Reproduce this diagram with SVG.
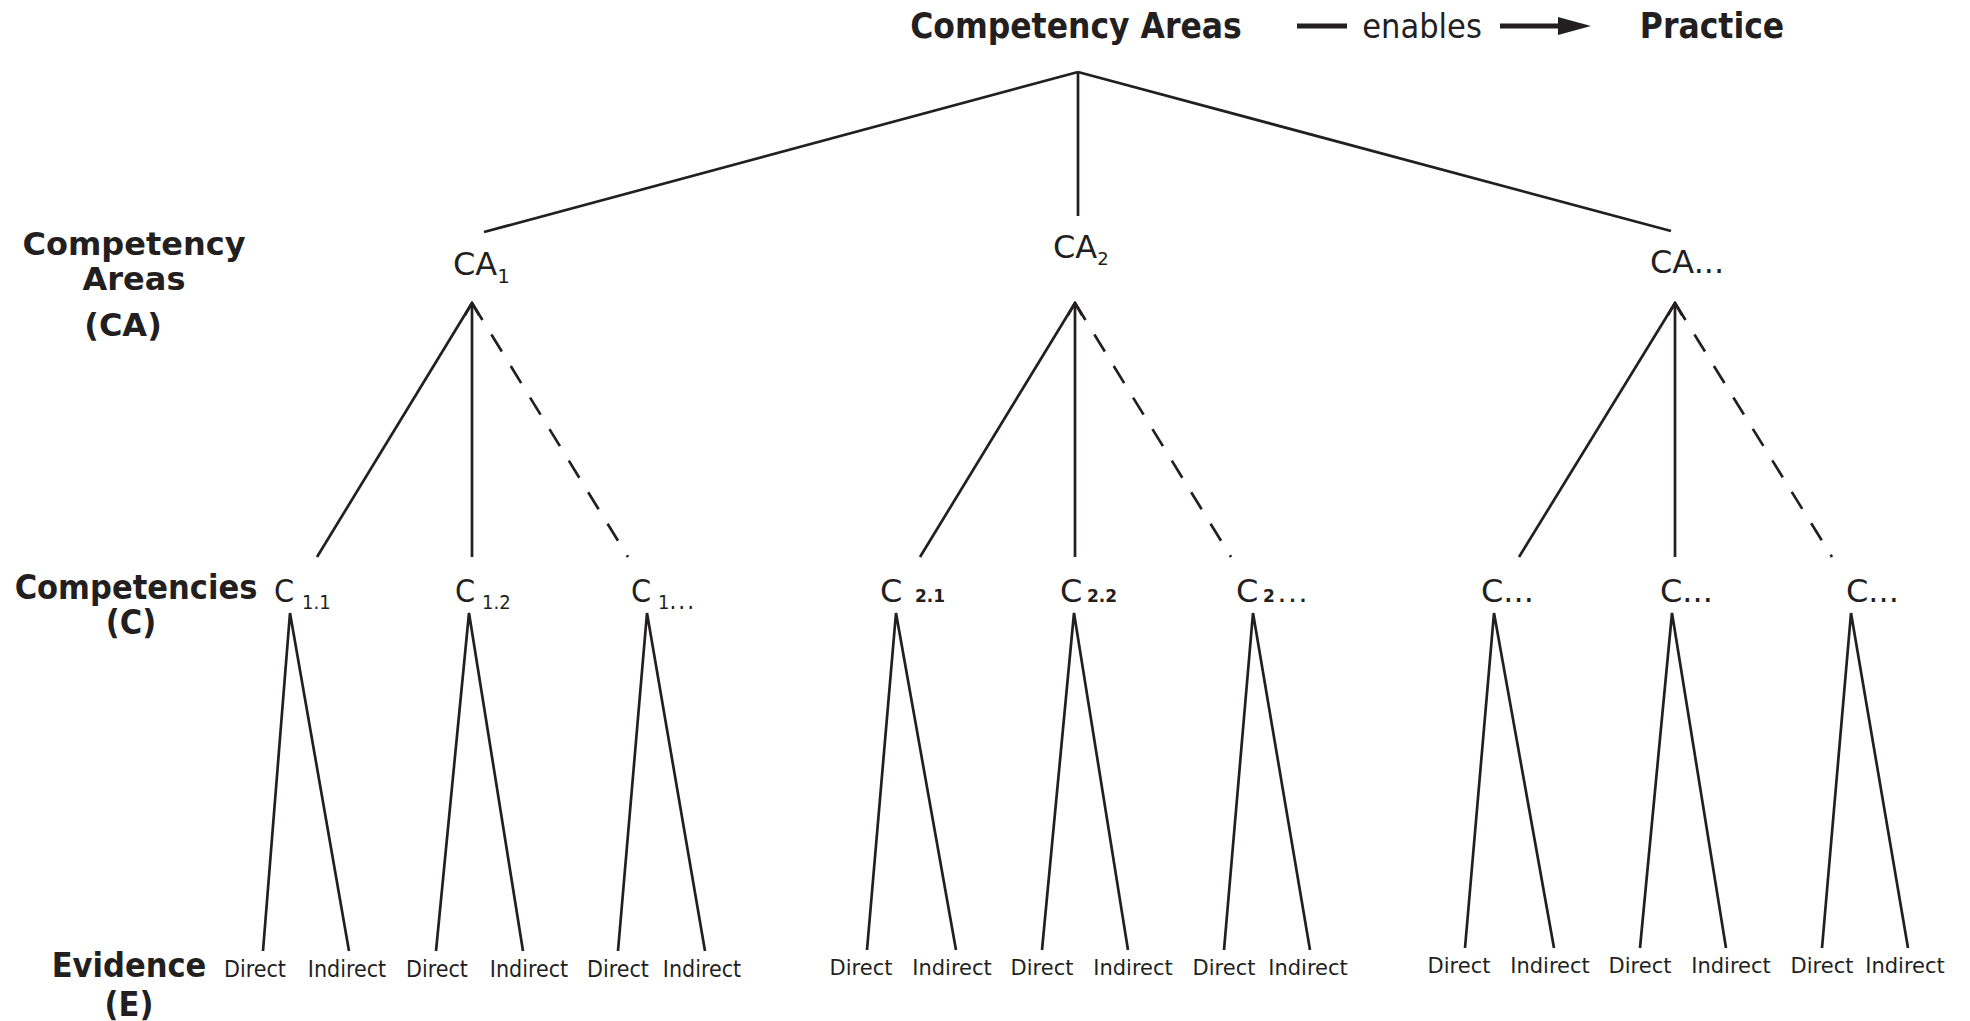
<svg xmlns="http://www.w3.org/2000/svg" width="1970" height="1021" viewBox="0 0 1970 1021">
<style>
text{fill:#231f20;font-family:"DejaVu Sans","Liberation Sans",sans-serif}
.cond{font-family:"DejaVu Sans Condensed","DejaVu Sans",sans-serif;font-stretch:condensed}
.b{font-weight:bold}
.hdr{font-size:32px;font-weight:bold;text-anchor:middle}
.hdrc{font-size:34px;font-weight:bold;text-anchor:middle;font-family:"DejaVu Sans Condensed","DejaVu Sans",sans-serif;font-stretch:condensed}
.ca{font-size:32px}
.c{font-size:32px}
.sub{font-size:20px}
.ev{font-size:21px;text-anchor:middle}
.evc{font-size:23px;text-anchor:middle;font-family:"DejaVu Sans Condensed","DejaVu Sans",sans-serif;font-stretch:condensed}
.ln{stroke:#231f20;stroke-width:2.7;fill:none}
.dash{stroke-dasharray:20 17}
</style>
<defs>
<marker id="up" viewBox="-2 -10 16 20" refX="12" refY="0" markerWidth="16" markerHeight="20" markerUnits="userSpaceOnUse" orient="auto">
<path d="M0,-7 L12,0 L0,7" fill="none" stroke="#231f20" stroke-width="2.7"/>
</marker>
</defs>

<g id="title">
<text class="cond b" x="1076" y="38" font-size="35" text-anchor="middle">Competency Areas</text>
<line x1="1297" y1="26" x2="1347" y2="26" stroke="#231f20" stroke-width="5"/>
<text class="cond" x="1422" y="38" font-size="34" text-anchor="middle">enables</text>
<line x1="1500" y1="26" x2="1562" y2="26" stroke="#231f20" stroke-width="5"/>
<polygon points="1558,17 1591,26 1558,35" fill="#231f20"/>
<text class="cond b" x="1712" y="38" font-size="35" text-anchor="middle">Practice</text>
</g>

<g id="row-labels">
<text class="hdr" x="134" y="255">Competency</text>
<text class="hdr" x="134" y="290">Areas</text>
<text class="hdr" x="123" y="336">(CA)</text>
<text class="hdrc" x="136" y="599">Competencies</text>
<text class="hdrc" x="131" y="634">(C)</text>
<text class="hdrc" x="129" y="977">Evidence</text>
<text class="hdrc" x="129" y="1016">(E)</text>
</g>

<g id="connectors">
<line class="ln" x1="1078" y1="72" x2="484" y2="232"/>
<line class="ln" x1="1078" y1="72" x2="1078" y2="216"/>
<line class="ln" x1="1078" y1="72" x2="1671" y2="231"/>

<line class="ln" x1="472" y1="303" x2="317" y2="557"/>
<line class="ln" x1="472" y1="557" x2="472" y2="303" marker-end="url(#up)"/>
<line class="ln dash" x1="472" y1="303" x2="628" y2="557"/>

<line class="ln" x1="1075" y1="303" x2="920" y2="557"/>
<line class="ln" x1="1075" y1="557" x2="1075" y2="303" marker-end="url(#up)"/>
<line class="ln dash" x1="1075" y1="303" x2="1231" y2="557"/>

<line class="ln" x1="1675" y1="303" x2="1519" y2="557"/>
<line class="ln" x1="1675" y1="557" x2="1675" y2="303" marker-end="url(#up)"/>
<line class="ln dash" x1="1675" y1="303" x2="1832" y2="557"/>

<polyline class="ln" points="263,951 290,613 349,951"/>
<polyline class="ln" points="436,951 469,613 523,951"/>
<polyline class="ln" points="618,951 647,613 705,951"/>
<polyline class="ln" points="867,950 896,613 956,950"/>
<polyline class="ln" points="1042,950 1074,613 1128,950"/>
<polyline class="ln" points="1224,950 1253,613 1310,950"/>
<polyline class="ln" points="1465,948 1494,613 1554,948"/>
<polyline class="ln" points="1640,948 1672,613 1726,948"/>
<polyline class="ln" points="1822,948 1851,613 1908,948"/>
</g>

<g id="ca1"><text class="ca" x="453" y="275">CA<tspan class="sub" dy="8">1</tspan></text></g>
<g id="ca2"><text class="ca" x="1053" y="258">CA<tspan font-size="18" dy="7">2</tspan></text></g>
<g id="ca3"><text class="ca" x="1650" y="273">CA...</text></g>

<g id="c11"><text class="c cond" x="274" y="602">C<tspan class="sub" x="302" dy="7">1.1</tspan></text></g>
<g id="c12"><text class="c cond" x="455" y="602">C<tspan class="sub" x="482" dy="7">1.2</tspan></text></g>
<g id="c13"><text class="c cond" x="631" y="602">C<tspan class="sub" x="658" dy="7">1<tspan font-size="24" letter-spacing="2">...</tspan></tspan></text></g>

<g id="c21"><text class="c" x="880" y="602">C<tspan class="b" font-size="17" x="915">2.1</tspan></text></g>
<g id="c22"><text class="c" x="1060" y="602">C<tspan class="b" font-size="17" x="1087">2.2</tspan></text></g>
<g id="c23"><text class="c" x="1236" y="602">C<tspan class="b" font-size="17" x="1263" letter-spacing="4">2...</tspan></text></g>

<g id="c31"><text class="c" x="1481" y="602">C...</text></g>
<g id="c32"><text class="c" x="1660" y="602">C...</text></g>
<g id="c33"><text class="c" x="1846" y="602">C...</text></g>

<g id="evidence-1">
<text class="evc" x="255" y="977">Direct</text><text class="evc" x="347" y="977">Indirect</text>
<text class="evc" x="437" y="977">Direct</text><text class="evc" x="529" y="977">Indirect</text>
<text class="evc" x="618" y="977">Direct</text><text class="evc" x="702" y="977">Indirect</text>
</g>
<g id="evidence-2">
<text class="ev" x="861" y="975">Direct</text><text class="ev" x="952" y="975">Indirect</text>
<text class="ev" x="1042" y="975">Direct</text><text class="ev" x="1133" y="975">Indirect</text>
<text class="ev" x="1224" y="975">Direct</text><text class="ev" x="1308" y="975">Indirect</text>
</g>
<g id="evidence-3">
<text class="ev" x="1459" y="973">Direct</text><text class="ev" x="1550" y="973">Indirect</text>
<text class="ev" x="1640" y="973">Direct</text><text class="ev" x="1731" y="973">Indirect</text>
<text class="ev" x="1822" y="973">Direct</text><text class="ev" x="1905" y="973">Indirect</text>
</g>
</svg>
